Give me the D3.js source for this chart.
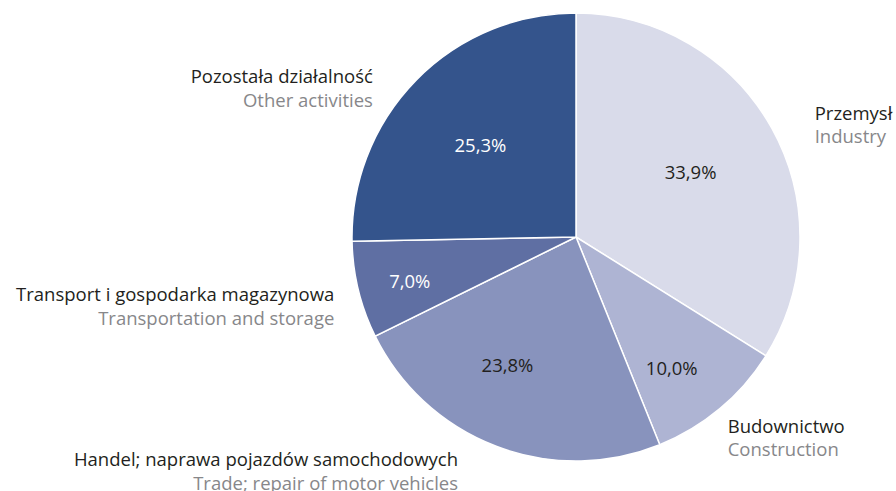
<!DOCTYPE html>
<html>
<head>
<meta charset="utf-8">
<script src="https://cdn.jsdelivr.net/npm/d3@7"></script>
<style>
  body { margin: 0; background: #fff; }
  svg { display: block; font-family: "Open Sans", sans-serif; }
</style>
</head>
<body>
<div class="chart"></div>
<script>
// data
var namesPl = ["Przemysł", "Budownictwo", "Handel; naprawa pojazdów samochodowych", "Transport i gospodarka magazynowa", "Pozostała działalność"];
var namesEn = ["Industry", "Construction", "Trade; repair of motor vehicles", "Transportation and storage", "Other activities"];
var shares = [33.9, 10.0, 23.8, 7.0, 25.3];
var colors = ["#d9dbea", "#aeb4d3", "#8893bd", "#5f6fa3", "#34548c"];

var width = 896, height = 491;
var cx = 576, cy = 237, R = 224;
var fontSize = "18.5px";

var svg = d3.select(".chart").append("svg")
  .attr("width", width)
  .attr("height", height);

var g = svg.append("g").attr("transform", "translate(" + cx + "," + cy + ")");

var pie = d3.pie().sort(null).value(function(d){ return d; });
var arcs = pie(shares);

var arc = d3.arc().innerRadius(0).outerRadius(R);

g.selectAll("path")
  .data(arcs)
  .enter()
  .append("path")
  .attr("d", arc)
  .attr("fill", function(d, i){ return colors[i]; })
  .attr("stroke", "#fff")
  .attr("stroke-width", 1.5);

function mid(d){ return (d.startAngle + d.endAngle) / 2; }
function fmt(v){ return v.toFixed(1).replace(".", ","); }

// percentage labels, smaller slices pushed further out, plus small hand nudges
var pctNudge = [[1, -2], [-10, 5], [-17, -7], [-2, 5], [6, 8]];
g.selectAll("text.pct")
  .data(arcs)
  .enter()
  .append("text")
  .attr("class", "pct")
  .attr("transform", function(d, i){
    var r = R * (0.8 - 0.65 * d.value / 100);
    var a = mid(d);
    return "translate(" + (r * Math.sin(a) + pctNudge[i][0]) + "," + (-r * Math.cos(a) + pctNudge[i][1]) + ")";
  })
  .attr("text-anchor", "middle")
  .attr("dy", "0.35em")
  .style("font-size", fontSize)
  .attr("fill", function(d, i){ return i >= 3 ? "#fff" : "#231f20"; })
  .text(function(d){ return fmt(d.value) + "%"; });

// category labels outside the pie
var nudge = [[13, 14], [-14, 4], [-26, -6], [9, 9], [-19, 33]];
var outer = g.selectAll("g.lab")
  .data(arcs)
  .enter()
  .append("g")
  .attr("class", "lab")
  .attr("transform", function(d, i){
    var a = mid(d);
    var r = R + 34;
    return "translate(" + (r * Math.sin(a) + nudge[i][0]) + "," + (-r * Math.cos(a) + nudge[i][1]) + ")";
  });

outer.append("text")
  .attr("text-anchor", function(d){ return mid(d) < Math.PI ? "start" : "end"; })
  .attr("y", -6)
  .style("font-size", fontSize)
  .attr("fill", "#231f20")
  .text(function(d, i){ return namesPl[i]; });

outer.append("text")
  .attr("text-anchor", function(d){ return mid(d) < Math.PI ? "start" : "end"; })
  .attr("y", 17.5)
  .style("font-size", fontSize)
  .attr("fill", "#87878a")
  .text(function(d, i){ return namesEn[i]; });
</script>
</body>
</html>
